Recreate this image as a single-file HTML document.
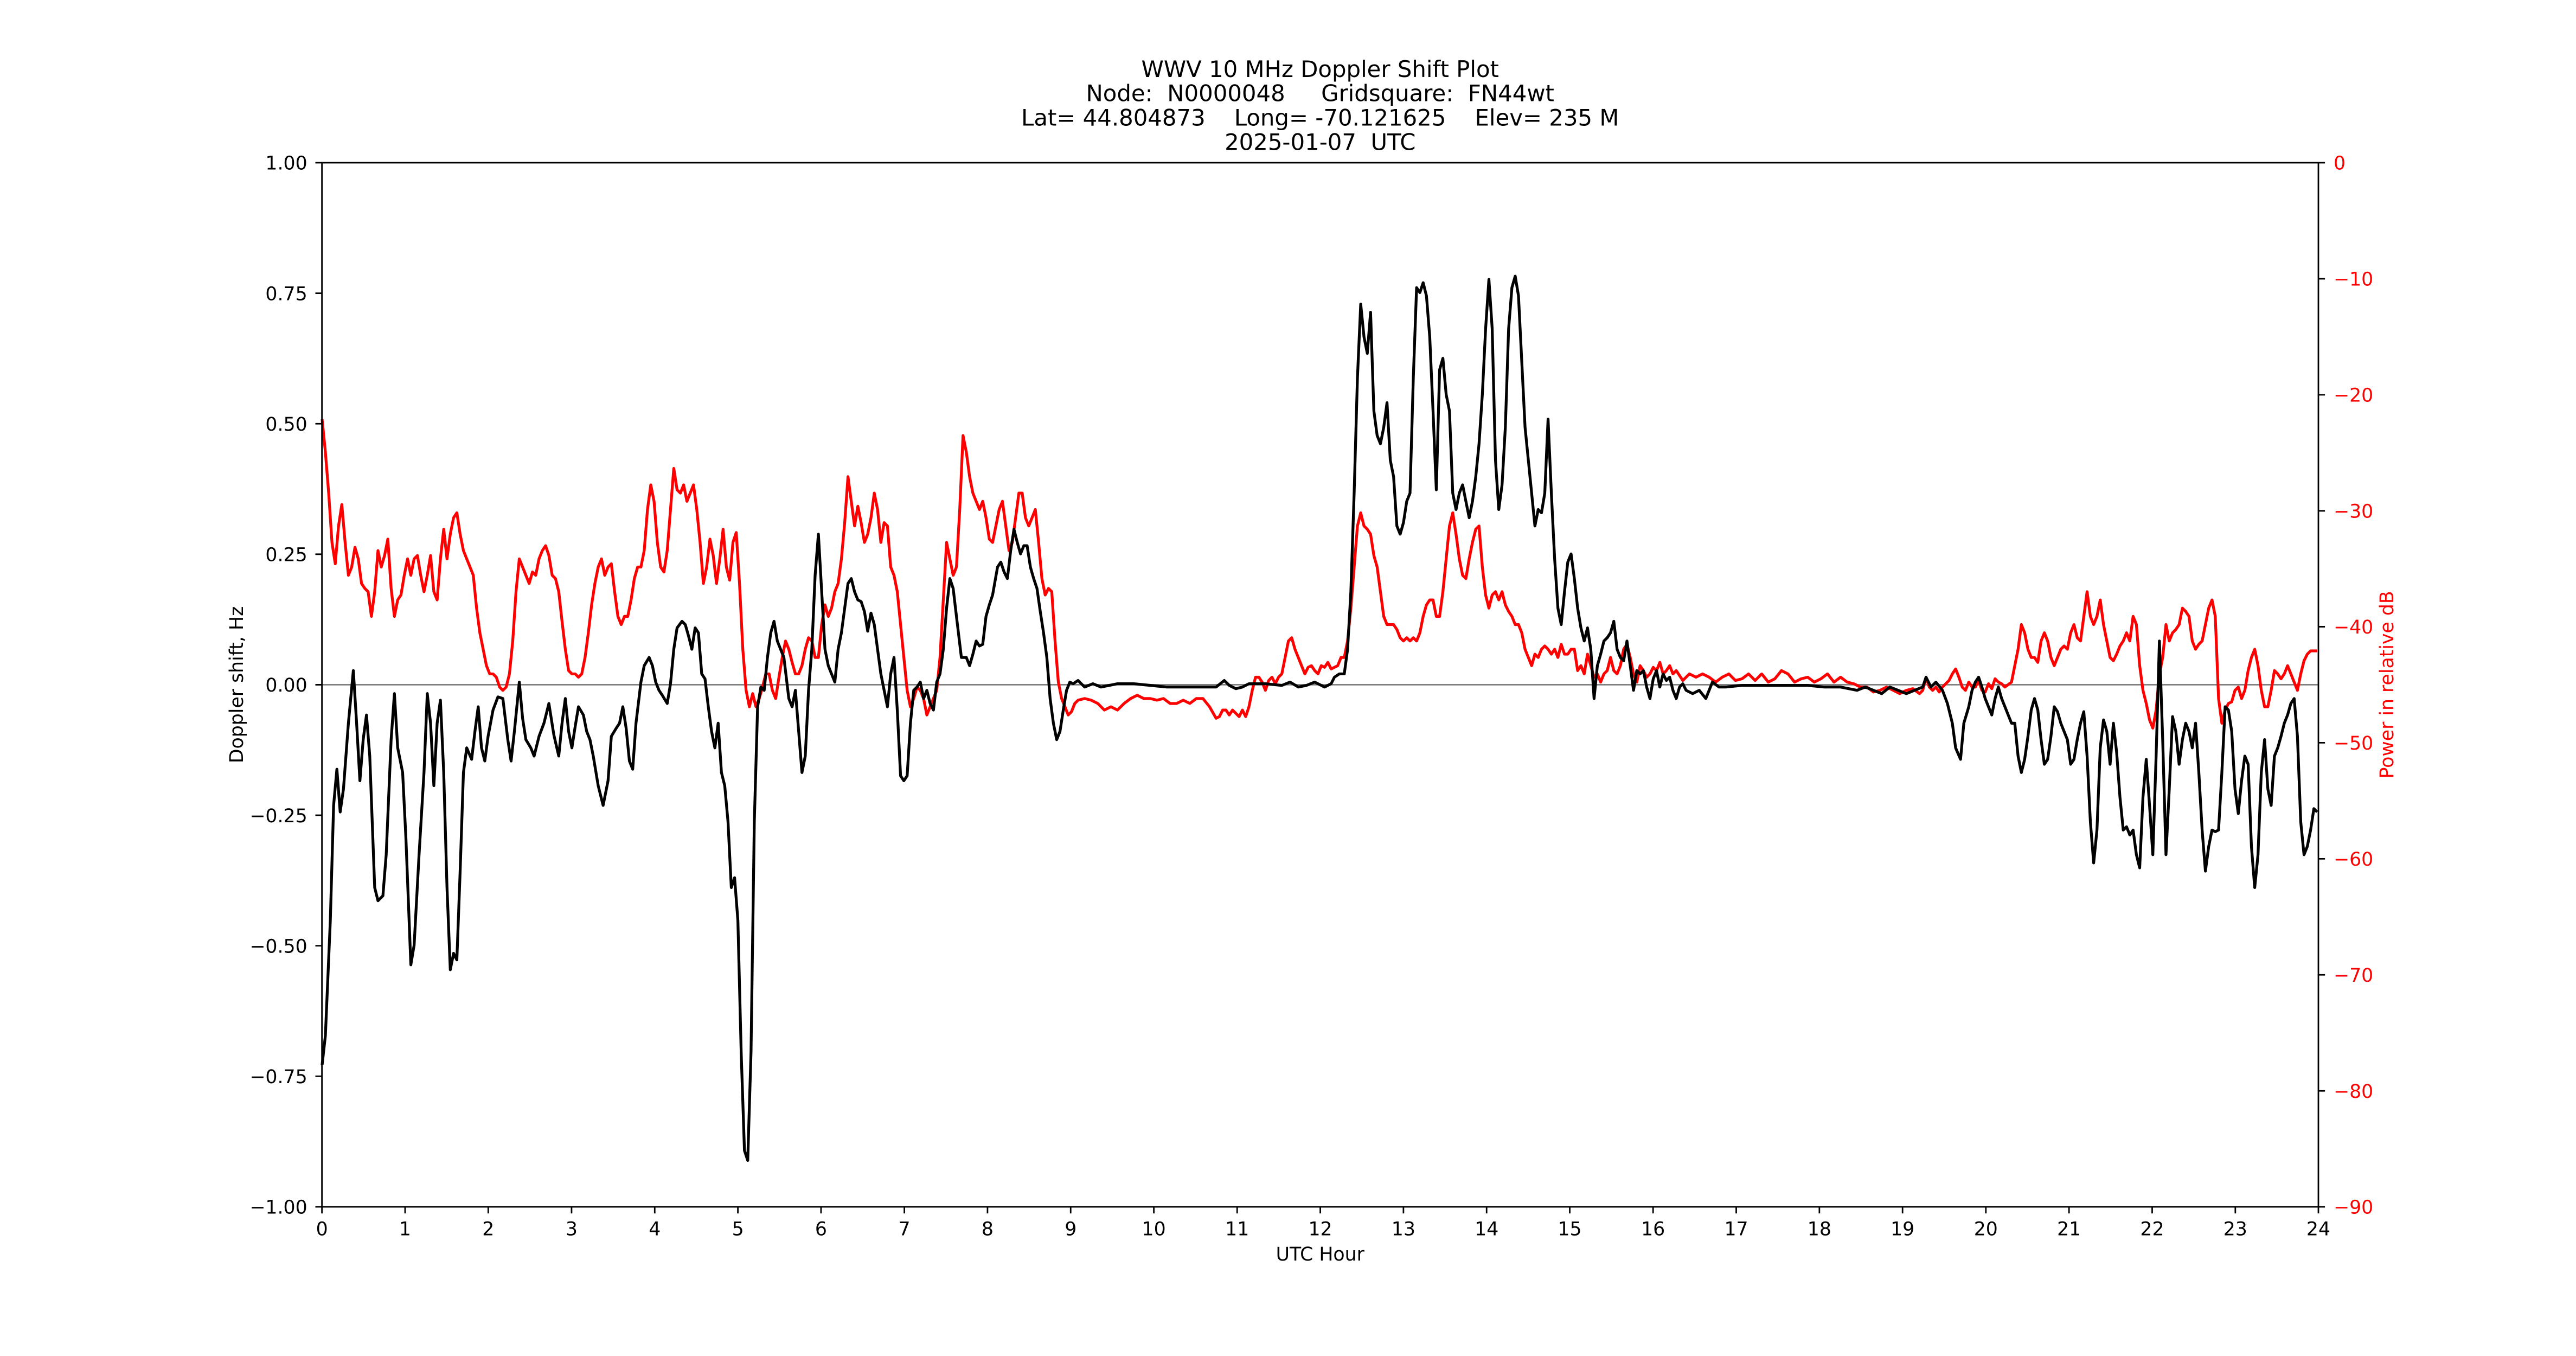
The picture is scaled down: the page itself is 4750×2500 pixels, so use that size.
<!DOCTYPE html>
<html><head><meta charset="utf-8"><style>
html,body{margin:0;padding:0;background:#fff;}
svg{display:block;}
text{font-family:"DejaVu Sans","Liberation Sans",sans-serif;font-size:11.45px;}
.tt{font-size:13.8px;}
</style></head><body>
<svg width="4750" height="2500" viewBox="0 0 1567.5 825" xmlns="http://www.w3.org/2000/svg">
<rect width="1567.5" height="825" fill="#fff"/>
<g text-anchor="middle" fill="#000" class="tt">
<text class="tt" x="803.3" y="46.8">WWV 10 MHz Doppler Shift Plot</text>
<text class="tt" x="803.3" y="61.6" xml:space="preserve">Node:  N0000048     Gridsquare:  FN44wt</text>
<text class="tt" x="803.3" y="76.4" xml:space="preserve">Lat= 44.804873    Long= -70.121625    Elev= 235 M</text>
<text class="tt" x="803.3" y="91.3" xml:space="preserve">2025-01-07  UTC</text>
</g>
<line x1="195.9" y1="416.6" x2="1410.75" y2="416.6" stroke="#808080" stroke-width="0.9"/>
<polyline fill="none" stroke="#ff0000" stroke-width="1.72" stroke-linejoin="round" points="196,255 198,275 200,300 202,330 204,343 206,320 208,307 210,330 212,350 214,345 216,333 218,340 220,355 222,358 224,360 226,375 228,360 230,335 232,345 234,338 236,328 238,358 240,375 242,365 244,362 246,350 248,340 250,350 252,340 254,338 256,350 258,360 260,350 262,338 264,360 266,365 268,340 270,322 272,340 274,325 276,315 278,312 280,325 282,335 284,340 286,345 288,350 290,370 292,385 294,395 296,405 298,410 300,410 302,412 304,418 306,420 308,418 310,410 312,390 314,360 316,340 318,345 320,350 322,355 324,348 326,350 328,340 330,335 332,332 334,338 336,350 338,352 340,360 342,378 344,395 346,408 348,410 350,410 352,412 354,410 356,400 358,385 360,368 362,355 364,345 366,340 368,350 370,345 372,343 374,360 376,375 378,380 380,375 382,375 384,365 386,352 388,345 390,345 392,335 394,310 396,295 398,305 400,330 402,345 404,348 406,335 408,310 410,285 412,298 414,300 416,295 418,305 420,300 422,295 424,310 426,330 428,355 430,345 432,328 434,338 436,355 438,340 440,322 442,345 444,353 446,330 448,324 450,355 452,395 454,420 456,430 458,422 460,430 462,425 464,418 466,410 468,410 470,420 472,425 474,412 476,400 478,390 480,395 482,403 484,410 486,410 488,405 490,395 492,388 494,390 496,400 498,400 500,380 502,368 504,375 506,370 508,360 510,355 512,340 514,318 516,290 518,305 520,320 522,308 524,318 526,330 528,325 530,315 532,300 534,310 536,330 538,318 540,320 542,345 544,350 546,360 548,380 550,400 552,420 554,430 556,425 558,418 560,420 562,425 564,435 566,430 568,425 570,420 572,400 574,365 576,330 578,340 580,350 582,345 584,310 586,265 588,275 590,290 592,300 594,305 596,310 598,305 600,315 602,328 604,330 606,320 608,310 610,305 612,320 614,335 616,330 618,315 620,300 622,300 624,315 626,320 628,315 630,310 632,330 634,352 636,362 638,358 640,360 642,390 644,415 646,425 648,430 650,435 652,433 654,428 656,426 660,425 664,426 668,428 672,432 676,430 680,432 684,428 688,425 692,423 696,425 700,425 704,426 708,425 712,428 716,428 720,426 724,428 728,425 732,425 736,430 740,437 742,436 744,432 746,432 748,435 750,432 752,434 754,436 756,432 758,436 760,430 762,420 764,412 766,412 768,415 770,420 772,414 774,412 776,416 778,412 780,410 782,400 784,390 786,388 788,395 790,400 792,405 794,410 796,406 798,405 800,408 802,410 804,405 806,406 808,403 810,407 812,406 814,405 816,400 818,400 820,390 822,370 824,345 826,320 828,312 830,320 832,322 834,325 836,338 838,345 840,360 842,375 844,380 846,380 848,380 850,383 852,388 854,390 856,388 858,390 860,388 862,390 864,385 866,375 868,368 870,365 872,365 874,375 876,375 878,360 880,340 882,320 884,312 886,325 888,340 890,350 892,352 894,340 896,330 898,322 900,320 902,345 904,362 906,370 908,362 910,360 912,365 914,360 916,368 918,372 920,375 922,380 924,380 926,385 928,395 930,400 932,405 934,398 936,400 938,395 940,393 942,395 944,398 946,395 948,400 950,392 952,398 954,398 956,395 958,395 960,408 962,405 964,410 966,398 968,405 970,412 972,410 974,415 976,410 978,408 980,400 982,408 984,410 986,405 988,395 990,392 992,400 994,410 996,415 998,405 1000,408 1002,412 1004,410 1006,406 1008,408 1010,403 1012,410 1014,408 1016,405 1018,410 1020,408 1024,414 1028,410 1032,412 1036,410 1040,412 1044,415 1048,412 1052,410 1056,414 1060,413 1064,410 1068,414 1072,410 1076,415 1080,413 1084,408 1088,410 1092,415 1096,413 1100,412 1104,415 1108,413 1112,410 1116,415 1120,412 1124,415 1128,416 1132,418 1136,418 1140,421 1144,420 1148,418 1152,420 1156,422 1160,420 1164,419 1168,422 1170,420 1172,412 1174,418 1176,420 1178,418 1180,421 1182,418 1184,416 1186,414 1188,410 1190,407 1192,412 1194,418 1196,420 1198,415 1200,418 1202,418 1204,414 1206,420 1208,421 1210,416 1212,419 1214,413 1216,415 1218,416 1220,418 1224,415 1226,405 1228,395 1230,380 1232,385 1234,395 1236,400 1238,400 1240,403 1242,390 1244,385 1246,390 1248,400 1250,405 1252,400 1254,395 1256,393 1258,395 1260,385 1262,380 1264,388 1266,390 1268,375 1270,360 1272,375 1274,380 1276,375 1278,365 1280,380 1282,390 1284,400 1286,402 1288,398 1290,393 1292,390 1294,385 1296,390 1298,375 1300,380 1302,405 1304,420 1306,428 1308,438 1310,443 1312,432 1314,410 1316,400 1318,380 1320,390 1322,385 1324,383 1326,380 1328,370 1330,372 1332,375 1334,390 1336,395 1338,392 1340,390 1342,380 1344,370 1346,365 1348,375 1350,425 1352,440 1354,432 1356,428 1358,427 1360,420 1362,418 1364,425 1366,420 1368,408 1370,400 1372,395 1374,405 1376,420 1378,430 1380,430 1382,420 1384,408 1386,410 1388,413 1390,410 1392,405 1394,410 1396,415 1398,420 1400,410 1402,402 1404,398 1406,396 1408,396 1410,396"/>
<polyline fill="none" stroke="#000" stroke-width="1.72" stroke-linejoin="round" points="196,648 198,630 201,560 203,490 205,468 207,494 209,480 212,440 215,408 217,440 219,475 221,450 223,435 225,460 228,540 230,548 233,545 235,520 238,450 240,422 242,455 245,470 247,510 250,587 252,575 255,520 258,470 260,422 262,440 264,478 266,440 268,426 270,470 272,540 274,590 276,580 278,584 280,530 282,470 284,455 287,462 289,445 291,430 293,455 295,463 297,448 300,432 303,424 306,425 309,450 311,463 313,445 316,415 318,437 320,450 323,455 325,460 328,448 331,440 334,428 337,447 340,460 342,440 344,425 346,445 348,455 350,442 352,430 355,435 357,445 359,450 361,460 364,478 367,490 370,475 372,448 375,443 377,440 379,430 381,443 383,463 385,468 387,440 390,415 392,405 395,400 397,405 399,415 401,420 403,423 406,428 408,416 410,395 412,382 415,378 417,380 419,387 421,395 423,382 425,385 427,410 429,413 431,430 433,445 435,455 437,440 439,470 441,478 443,500 445,540 447,534 449,560 451,640 453,700 455,706 457,640 459,500 461,430 463,418 465,420 467,400 469,385 471,378 473,390 475,395 477,400 480,425 482,430 484,420 486,445 488,470 490,460 492,420 494,395 496,350 498,325 500,360 502,395 504,405 506,410 508,415 510,395 512,385 514,370 516,355 518,352 520,360 522,365 524,366 526,372 528,384 530,373 532,380 534,395 536,410 538,420 540,430 542,410 544,400 546,432 548,472 550,475 552,472 554,440 556,420 558,418 560,415 562,425 564,420 566,428 568,432 570,415 572,410 574,395 576,370 578,352 580,358 582,375 585,400 588,400 590,405 592,398 594,390 596,393 598,392 600,375 602,368 604,362 607,345 609,342 611,348 613,352 615,335 617,322 619,330 621,337 623,332 625,332 627,345 629,352 631,358 633,372 635,385 637,400 639,425 641,440 643,450 645,445 647,432 649,420 651,415 653,416 656,414 660,418 665,416 670,418 680,416 690,416 700,417 710,418 720,418 730,418 740,418 745,414 748,417 752,419 756,418 760,416 770,416 780,417 785,415 790,418 795,417 800,415 806,418 810,416 812,412 815,410 818,410 820,395 822,360 824,300 826,230 828,185 830,205 832,215 834,190 836,250 838,265 840,270 842,260 844,245 846,280 848,290 850,320 852,325 854,318 856,305 858,300 860,230 862,175 864,178 866,172 868,180 870,205 872,250 874,298 876,225 878,218 880,240 882,250 884,300 886,310 888,300 890,295 892,305 894,315 896,305 898,290 900,270 902,240 904,200 906,170 908,200 910,280 912,310 914,295 916,260 918,200 920,175 922,168 924,180 926,220 928,260 930,280 932,300 934,320 936,310 938,312 940,300 942,255 944,300 946,340 948,370 950,380 952,360 954,342 956,337 958,352 960,370 962,382 964,390 966,382 968,395 970,425 972,405 974,398 976,390 978,388 980,385 982,378 984,395 986,400 988,402 990,390 992,405 994,420 996,408 998,410 1000,408 1002,418 1004,425 1006,413 1008,408 1010,418 1012,410 1014,414 1016,412 1018,420 1020,425 1022,418 1024,416 1026,420 1030,422 1034,420 1038,425 1042,415 1046,418 1050,418 1060,417 1070,417 1080,417 1090,417 1100,417 1110,418 1120,418 1130,420 1135,418 1140,420 1145,422 1150,418 1155,420 1160,422 1165,420 1170,418 1172,412 1175,418 1178,415 1182,420 1185,428 1188,440 1190,455 1193,462 1195,440 1198,430 1200,420 1202,415 1204,412 1206,418 1208,425 1210,430 1212,435 1214,425 1216,418 1218,425 1220,430 1222,435 1224,440 1226,440 1228,460 1230,470 1232,462 1234,448 1236,432 1238,425 1240,432 1242,450 1244,465 1246,462 1248,448 1250,430 1252,433 1254,440 1256,445 1258,450 1260,465 1262,462 1264,450 1266,440 1268,433 1270,460 1272,500 1274,525 1276,505 1278,455 1280,438 1282,445 1284,465 1286,440 1288,458 1290,485 1292,505 1294,503 1296,508 1298,505 1300,520 1302,528 1304,485 1306,462 1308,490 1310,520 1312,460 1314,390 1316,450 1318,520 1320,480 1322,436 1324,445 1326,465 1328,450 1330,440 1332,445 1334,455 1336,440 1338,470 1340,505 1342,530 1344,515 1346,505 1348,506 1350,505 1352,470 1354,430 1356,432 1358,445 1360,480 1362,495 1364,475 1366,460 1368,465 1370,515 1372,540 1374,520 1376,470 1378,450 1380,480 1382,490 1384,460 1386,455 1388,448 1390,440 1392,435 1394,428 1396,425 1398,448 1400,500 1402,520 1404,515 1406,505 1408,492 1410,494"/>
<rect x="195.9" y="99" width="1214.85" height="635.25" fill="none" stroke="#000" stroke-width="0.92"/>
<g stroke="#000" stroke-width="0.92">
<path d="M195.9 99h-4M195.9 257.8h-4M195.9 416.6h-4M195.9 575.4h-4M195.9 734.25h-4"/>
<path d="M195.9 178.4h-4M195.9 337.2h-4M195.9 496h-4M195.9 654.8h-4"/>
<path d="M1410.75 99h4M1410.75 169.6h4M1410.75 240.2h4M1410.75 310.8h4M1410.75 381.3h4M1410.75 451.9h4M1410.75 522.5h4M1410.75 593.1h4M1410.75 663.7h4M1410.75 734.25h4"/>
<path d="M195.9 734.25v4M246.5 734.25v4M297.1 734.25v4M347.8 734.25v4M398.4 734.25v4M449 734.25v4M499.6 734.25v4M550.3 734.25v4M600.9 734.25v4M651.5 734.25v4M702.1 734.25v4M752.8 734.25v4M803.4 734.25v4M854 734.25v4M904.6 734.25v4M955.2 734.25v4M1005.9 734.25v4M1056.5 734.25v4M1107.1 734.25v4M1157.7 734.25v4M1208.4 734.25v4M1259 734.25v4M1309.6 734.25v4M1360.2 734.25v4M1410.75 734.25v4"/>
</g>
<g text-anchor="end" fill="#000">
<text x="187" y="103.2">1.00</text><text x="187" y="182.6">0.75</text><text x="187" y="262">0.50</text><text x="187" y="341.4">0.25</text><text x="187" y="420.8">0.00</text><text x="187" y="500.2">−0.25</text><text x="187" y="579.6">−0.50</text><text x="187" y="659">−0.75</text><text x="187" y="738.4">−1.00</text>
</g>
<g text-anchor="start" fill="#ff0000">
<text x="1420" y="103.2">0</text><text x="1420" y="173.8">−10</text><text x="1420" y="244.4">−20</text><text x="1420" y="315">−30</text><text x="1420" y="385.5">−40</text><text x="1420" y="456.1">−50</text><text x="1420" y="526.7">−60</text><text x="1420" y="597.3">−70</text><text x="1420" y="667.9">−80</text><text x="1420" y="738.4">−90</text>
</g>
<g text-anchor="middle" fill="#000">
<text x="195.9" y="751.5">0</text><text x="246.5" y="751.5">1</text><text x="297.1" y="751.5">2</text><text x="347.8" y="751.5">3</text><text x="398.4" y="751.5">4</text><text x="449" y="751.5">5</text><text x="499.6" y="751.5">6</text><text x="550.3" y="751.5">7</text><text x="600.9" y="751.5">8</text><text x="651.5" y="751.5">9</text><text x="702.1" y="751.5">10</text><text x="752.8" y="751.5">11</text><text x="803.4" y="751.5">12</text><text x="854" y="751.5">13</text><text x="904.6" y="751.5">14</text><text x="955.2" y="751.5">15</text><text x="1005.9" y="751.5">16</text><text x="1056.5" y="751.5">17</text><text x="1107.1" y="751.5">18</text><text x="1157.7" y="751.5">19</text><text x="1208.4" y="751.5">20</text><text x="1259" y="751.5">21</text><text x="1309.6" y="751.5">22</text><text x="1360.2" y="751.5">23</text><text x="1410.75" y="751.5">24</text>
<text x="803.3" y="767">UTC Hour</text>
<text transform="translate(147.9 416.6) rotate(-90)" x="0" y="0">Doppler shift, Hz</text>
<text transform="translate(1456.3 416.6) rotate(-90)" x="0" y="0" fill="#ff0000">Power in relative dB</text>
</g>
</svg>
</body></html>
